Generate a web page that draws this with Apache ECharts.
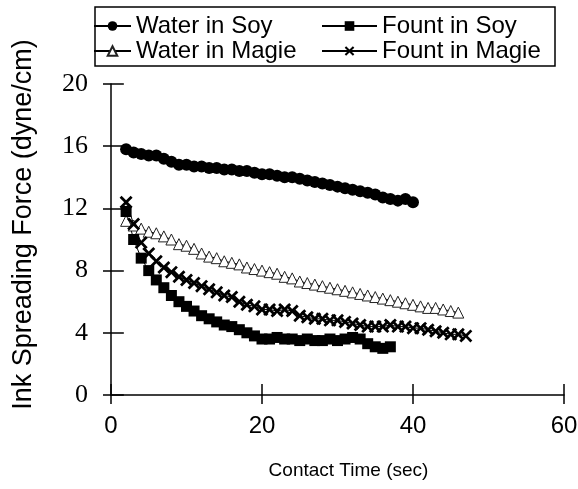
<!DOCTYPE html>
<html>
<head>
<meta charset="utf-8">
<script src="https://cdn.jsdelivr.net/npm/echarts@6/dist/echarts.min.js"></script>
<style>
html, body { margin: 0; padding: 0; background: #fff; }
#container { width: 578px; height: 489px; }
</style>
</head>
<body>
<div id="container"></div>
<script>
// contact time (sec), shared by all series
var times = [2, 3, 4, 5, 6, 7, 8, 9, 10, 11, 12, 13, 14, 15, 16, 17, 18, 19, 20, 21, 22, 23, 24,
	25, 26, 27, 28, 29, 30, 31, 32, 33, 34, 35, 36, 37, 38, 39, 40, 41, 42, 43, 44, 45, 46, 47];

var waterInSoy = [15.8, 15.6, 15.5, 15.4, 15.4, 15.2, 15.0, 14.8, 14.8, 14.7, 14.7, 14.6, 14.6, 14.5,
	14.5, 14.4, 14.4, 14.3, 14.2, 14.2, 14.1, 14.0, 14.0, 13.9, 13.8, 13.7, 13.6, 13.5, 13.4, 13.3,
	13.2, 13.1, 13.0, 12.9, 12.7, 12.6, 12.5, 12.6, 12.4];

var waterInMagie = [11.2, 10.9, 10.7, 10.5, 10.4, 10.2, 10.0, 9.7, 9.6, 9.4, 9.1, 8.9, 8.8, 8.6, 8.5,
	8.4, 8.2, 8.1, 8.0, 7.9, 7.8, 7.6, 7.5, 7.3, 7.2, 7.1, 7.0, 6.9, 6.8, 6.7, 6.6, 6.5, 6.4, 6.3,
	6.2, 6.1, 6.0, 5.9, 5.8, 5.7, 5.6, 5.6, 5.5, 5.4, 5.3];

var fountInSoy = [11.8, 10.0, 8.8, 8.0, 7.4, 6.9, 6.4, 6.0, 5.7, 5.4, 5.1, 4.9, 4.7, 4.5, 4.4, 4.2,
	4.0, 3.8, 3.6, 3.6, 3.7, 3.6, 3.6, 3.5, 3.6, 3.5, 3.5, 3.6, 3.5, 3.6, 3.7, 3.6, 3.3, 3.1, 3.0, 3.1];

var fountInMagie = [12.4, 11.0, 9.8, 9.1, 8.6, 8.2, 7.9, 7.6, 7.4, 7.2, 7.0, 6.8, 6.6, 6.4, 6.3, 6.0,
	5.8, 5.7, 5.5, 5.5, 5.4, 5.5, 5.4, 5.1, 5.0, 4.9, 4.9, 4.8, 4.8, 4.7, 4.6, 4.5, 4.4, 4.4, 4.4,
	4.5, 4.4, 4.4, 4.3, 4.3, 4.2, 4.1, 4.0, 3.9, 3.9, 3.8];

var xTicks = [0, 20, 40, 60];
var yTicks = [0, 4, 8, 12, 16, 20];

function pairs(vals) {
	var out = [];
	for (var i = 0; i < vals.length; i++) {
		out.push([times[i], vals[i]]);
	}
	return out;
}

var xMark = 'path://M0,1.5L1.5,0L5,3.5L8.5,0L10,1.5L6.5,5L10,8.5L8.5,10L5,6.5L1.5,10L0,8.5L3.5,5Z';
var sans = '"Liberation Sans", Arial, sans-serif';
var serif = '"Liberation Serif", "Times New Roman", serif';

var dom = document.getElementById("container");
var myChart = echarts.init(dom);

function mkSeries(name, vals, symbol, size, fill) {
	return {
		name: name,
		type: 'line',
		data: pairs(vals),
		symbol: symbol,
		symbolSize: size,
		showAllSymbol: true,
		animation: false,
		lineStyle: { color: '#000', width: 1 },
		itemStyle: {
			color: fill,
			borderColor: '#222',
			borderWidth: fill === '#fff' ? 1 : 0
		}
	};
}

// inner half of the crossing ticks as short mark lines (lengths in axis units)
var innerX = 1.7, innerY = 0.7;
var tickSegs = [];
xTicks.forEach(function(v) {
	tickSegs.push([{ coord: [v, yTicks[0]] }, { coord: [v, yTicks[0] + innerY] }]);
});
yTicks.forEach(function(v) {
	tickSegs.push([{ coord: [xTicks[0], v] }, { coord: [xTicks[0] + innerX, v] }]);
});

var tickLine = { color: '#000', width: 1.5 };

var soySeries = mkSeries('Water in Soy', waterInSoy, 'circle', 12, '#000');
soySeries.markLine = {
	silent: true,
	animation: false,
	clip: false,
	symbol: ['none', 'none'],
	label: { show: false },
	emphasis: { disabled: true },
	lineStyle: { color: '#000', width: 1.5, type: 'solid' },
	data: tickSegs
};

var option = {
	backgroundColor: '#fff',
	animation: false,
	textStyle: { fontFamily: sans, color: '#000' },
	graphic: [{
		type: 'rect',
		shape: { x: 95, y: 7, width: 460, height: 59 },
		style: { fill: 'none', stroke: '#000', lineWidth: 1.5 },
		z: 1
	}],
	legend: [{
		orient: 'vertical',
		left: 93,
		top: 14,
		padding: 0,
		itemWidth: 37,
		itemHeight: 12,
		itemGap: 1,
		textStyle: { fontSize: 24, lineHeight: 24, color: '#000', fontFamily: sans },
		data: ['Water in Soy', 'Water in Magie']
	}, {
		orient: 'vertical',
		left: 321,
		top: 14,
		padding: 0,
		itemWidth: 55,
		itemHeight: 12,
		itemGap: 1,
		textStyle: { fontSize: 24, lineHeight: 24, color: '#000', fontFamily: sans },
		data: ['Fount in Soy', 'Fount in Magie']
	}],
	grid: { left: 111, right: 14, top: 84, bottom: 94, outerBoundsMode: 'none' },
	xAxis: {
		type: 'value',
		min: xTicks[0],
		max: xTicks[xTicks.length - 1],
		interval: 20,
		name: 'Contact Time (sec)',
		nameLocation: 'middle',
		nameGap: 66,
		nameTextStyle: { fontSize: 19, color: '#000', fontFamily: sans, padding: [0, 0, 0, 22] },
		axisLine: { lineStyle: { color: '#000', width: 1.5 } },
		axisTick: { length: 9, lineStyle: tickLine },
		axisLabel: { fontSize: 24, color: '#000', fontFamily: sans, margin: 19 },
		splitLine: { show: false }
	},
	yAxis: {
		type: 'value',
		min: yTicks[0],
		max: yTicks[yTicks.length - 1],
		interval: 4,
		name: 'Ink Spreading Force (dyne/cm)',
		nameLocation: 'middle',
		nameGap: 74,
		nameTextStyle: { fontSize: 27, color: '#000', fontFamily: sans, padding: [0, 0, 0, 30] },
		axisLine: { lineStyle: { color: '#000', width: 1.5 } },
		axisTick: { length: 8, lineStyle: tickLine },
		axisLabel: { fontSize: 26, color: '#000', fontFamily: serif, margin: 23 },
		splitLine: { show: false }
	},
	series: [
		soySeries,
		mkSeries('Water in Magie', waterInMagie, 'triangle', 11, '#fff'),
		mkSeries('Fount in Soy', fountInSoy, 'rect', 11, '#000'),
		mkSeries('Fount in Magie', fountInMagie, xMark, 13, '#000')
	]
};

if (option && typeof option === "object") {
	myChart.setOption(option, true);
}
</script>
</body>
</html>
